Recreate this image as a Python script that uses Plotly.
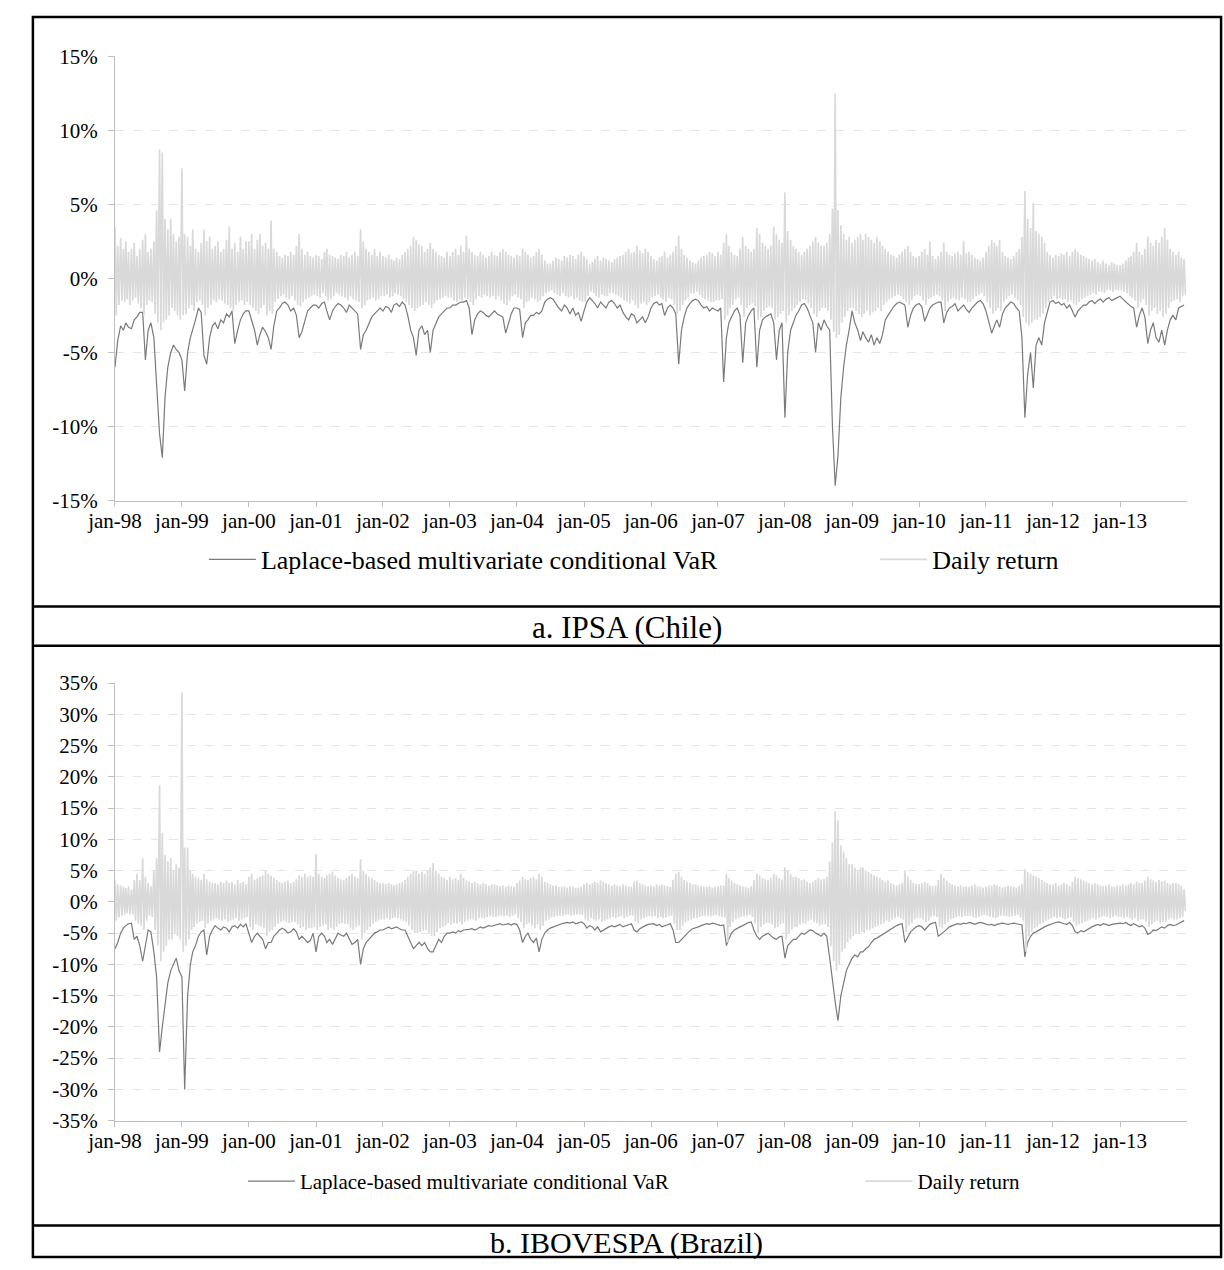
import plotly.graph_objects as go
from datetime import date

# ---------------- data (percent) ----------------
years = list(range(1998, 2014))
x_tick_labels = ["jan-%02d" % (y % 100) for y in years]
a_y_ticks = [15, 10, 5, 0, -5, -10, -15]
a_y_labels = ["15%", "10%", "5%", "0%", "-5%", "-10%", "-15%"]
b_y_ticks = [35, 30, 25, 20, 15, 10, 5, 0, -5, -10, -15, -20, -25, -30, -35]
b_y_labels = ["35%", "30%", "25%", "20%", "15%", "10%", "5%", "0%", "-5%",
              "-10%", "-15%", "-20%", "-25%", "-30%", "-35%"]

# IPSA: VaR, two readings per month (1st / 16th), 1998-2013
ipsa_var = [
    -6.0, -4.2, -3.2, -3.5, -3.0, -3.3, -3.4, -2.8, -2.6, -2.3, -2.3, -5.5, -3.5, -3.0, -4.0, -7.5, -10.5, -12.1, -8.0, -6.0, -5.0, -4.5, -4.8, -5.0,
    -5.5, -7.6, -5.0, -4.0, -3.5, -2.8, -2.0, -2.3, -5.2, -5.8, -4.0, -3.2, -3.0, -3.4, -2.8, -3.0, -2.4, -2.6, -2.2, -4.4, -3.5, -2.8, -2.4, -2.2,
    -2.2, -2.8, -3.5, -4.5, -3.8, -3.3, -3.6, -4.0, -4.8, -3.2, -2.2, -2.0, -1.7, -1.6, -1.8, -2.2, -2.0, -2.5, -4.0, -3.6, -2.8, -2.2, -2.0, -1.8,
    -1.8, -2.0, -1.7, -1.6, -2.2, -2.8, -2.2, -1.9, -1.7, -1.8, -2.0, -2.3, -1.8, -2.0, -2.2, -2.4, -4.8, -3.8, -3.5, -3.0, -2.6, -2.4, -2.2, -2.0,
    -2.2, -1.9, -2.0, -2.3, -1.8, -1.7, -1.9, -1.6, -1.8, -2.5, -3.5, -4.0, -5.2, -3.5, -3.2, -3.8, -3.5, -5.0, -3.5, -3.0, -2.6, -2.4, -2.2, -2.0,
    -2.0, -1.8, -1.8, -1.7, -1.6, -1.6, -1.5, -2.0, -3.8, -2.8, -2.4, -2.2, -2.3, -2.5, -2.6, -2.4, -2.2, -2.4, -2.5, -2.6, -3.7, -3.0, -2.4, -2.0,
    -2.0, -2.1, -4.0, -3.0, -2.8, -2.5, -2.5, -2.3, -2.4, -2.2, -1.6, -1.4, -1.3, -1.4, -1.7, -2.0, -2.2, -1.8, -2.0, -2.4, -2.0, -2.5, -2.3, -2.9,
    -2.2, -1.6, -1.3, -1.5, -1.7, -2.0, -1.6, -1.8, -2.0, -1.6, -1.5, -1.7, -2.0, -1.8, -2.3, -2.6, -2.8, -2.4, -2.5, -3.0, -2.8, -2.6, -3.0, -2.6,
    -2.0, -1.7, -1.6, -1.8, -1.7, -2.5, -2.0, -1.8, -2.0, -2.4, -5.8, -3.5, -2.6, -2.0, -1.7, -1.5, -1.4, -1.5, -1.8, -2.0, -1.9, -2.2, -2.0, -2.1,
    -2.2, -2.0, -7.0, -4.0, -3.0, -2.6, -2.2, -2.0, -2.5, -5.7, -3.0, -2.5, -2.2, -2.0, -6.0, -3.5, -2.8, -2.6, -2.5, -2.4, -3.0, -5.5, -3.5, -3.0,
    -9.4, -5.0, -3.5, -3.0, -2.5, -2.2, -1.8, -1.7, -2.0, -2.5, -3.0, -5.0, -3.0, -3.5, -2.8, -3.2, -3.5, -10.0, -14.0, -12.0, -8.0, -6.0, -4.5, -3.5,
    -2.2, -3.0, -3.5, -4.2, -3.6, -4.0, -4.3, -3.8, -4.5, -4.0, -4.4, -3.8, -2.8, -2.5, -2.2, -1.9, -1.7, -1.6, -1.7, -1.8, -3.3, -2.5, -2.0, -1.8,
    -1.7, -1.9, -2.9, -2.4, -2.0, -1.8, -1.7, -1.6, -1.6, -3.0, -2.3, -2.0, -1.9, -1.7, -2.2, -2.0, -1.8, -2.1, -2.3, -2.0, -1.8, -1.6, -1.5, -1.7,
    -2.2, -3.0, -3.7, -3.2, -2.8, -3.3, -2.4, -2.0, -1.8, -1.6, -1.7, -2.0, -2.2, -4.0, -9.4, -6.5, -5.0, -7.4, -4.5, -4.0, -4.5, -3.0, -2.3, -1.6,
    -1.5, -1.7, -1.6, -1.8, -1.7, -2.0, -1.8, -2.2, -2.6, -2.2, -2.0, -1.8, -1.8, -1.6, -1.5, -1.7, -1.5, -1.4, -1.6, -1.4, -1.3, -1.5, -1.4, -1.3,
    -1.2, -1.4, -1.6, -1.8, -1.9, -2.0, -3.3, -2.5, -2.0, -2.6, -4.4, -3.5, -3.0, -4.0, -4.3, -3.5, -4.5, -3.5, -2.8, -2.5, -2.8, -2.0, -1.9, -1.8,
]

# IPSA daily return: highest and lowest readings in each half month
ipsa_ret_hi = [
    3.5, 2.2, 2.7, 2.0, 2.5, 1.8, 2.0, 2.4, 1.5, 2.0, 2.6, 3.0, 1.8, 2.0, 2.5, 4.6, 8.7, 8.5, 4.0, 3.3, 4.0, 3.0, 2.5, 2.8,
    7.4, 3.0, 2.8, 2.2, 3.3, 2.0, 1.8, 2.4, 3.3, 2.5, 2.8, 2.0, 2.2, 2.5, 1.8, 2.0, 2.6, 3.5, 2.0, 2.4, 1.8, 2.8, 2.0, 2.5,
    2.5, 3.0, 2.0, 2.6, 3.0, 2.2, 2.4, 2.0, 3.9, 2.0, 1.8, 1.5, 1.4, 1.6, 1.5, 1.8, 1.6, 2.2, 3.0, 2.0, 1.6, 1.8, 1.5, 1.4,
    1.6, 1.5, 1.3, 1.8, 2.0, 1.6, 1.5, 1.4, 1.3, 1.6, 1.5, 1.8, 1.4, 1.6, 1.8, 1.5, 3.3, 2.5, 2.0, 1.8, 1.6, 2.0, 1.5, 1.8,
    1.5, 1.4, 1.6, 1.3, 1.2, 1.4, 1.3, 1.6, 1.8, 2.0, 2.2, 2.8, 2.6, 2.3, 2.2, 1.8, 2.0, 2.4, 2.0, 1.8, 1.6, 1.5, 1.4, 1.8,
    1.5, 1.8, 2.0, 1.6, 2.2, 1.8, 2.9, 2.0, 1.8, 1.6, 1.5, 1.8, 1.6, 1.4, 1.5, 1.8, 1.6, 1.5, 1.8, 2.0, 1.8, 1.6, 1.5, 1.4,
    1.6, 1.5, 2.0, 1.8, 1.6, 1.4, 1.5, 1.8, 2.0, 1.6, 1.2, 1.0, 1.0, 1.2, 1.4, 1.3, 1.2, 1.5, 1.4, 1.6, 1.5, 1.3, 1.6, 1.8,
    1.5, 1.3, 1.0, 1.1, 1.3, 1.5, 1.2, 1.4, 1.3, 1.2, 1.1, 1.3, 1.4, 1.5, 1.6, 1.8, 2.0, 1.7, 1.8, 2.2, 1.9, 1.7, 2.0, 1.8,
    1.5, 1.3, 1.2, 1.4, 1.5, 1.8, 1.4, 1.6, 1.8, 2.2, 2.9, 2.0, 1.6, 1.4, 1.2, 1.1, 1.0, 1.2, 1.4, 1.5, 1.6, 1.8, 1.7, 1.5,
    1.8, 1.6, 2.4, 3.0, 2.2, 1.8, 1.6, 1.5, 2.0, 2.8, 2.2, 2.0, 1.8, 2.0, 3.4, 3.0, 2.4, 2.2, 2.0, 2.2, 3.5, 3.0, 2.6, 2.4,
    5.8, 3.2, 2.6, 2.2, 2.0, 1.8, 1.6, 1.8, 2.0, 2.2, 2.5, 2.8, 2.4, 2.2, 2.2, 2.4, 3.0, 4.7, 12.5, 4.6, 3.6, 3.0, 2.6, 2.8,
    2.4, 2.6, 2.8, 3.0, 2.6, 3.0, 2.8, 2.6, 2.4, 2.8, 2.5, 2.2, 2.0, 1.8, 1.6, 1.5, 1.4, 1.6, 1.8, 2.0, 2.2, 1.8, 1.5, 1.4,
    1.5, 1.8, 2.0, 1.6, 2.5, 1.5, 1.3, 1.5, 1.8, 2.4, 1.8, 1.6, 1.5, 1.7, 1.8, 1.6, 2.5, 1.7, 1.8, 1.6, 1.4, 1.3, 1.2, 1.4,
    1.8, 2.2, 2.6, 2.4, 2.2, 2.6, 1.8, 1.5, 1.4, 1.3, 1.5, 1.8, 2.0, 2.8, 5.9, 4.0, 3.4, 5.1, 3.2, 3.0, 2.8, 2.4, 1.8, 1.6,
    1.4, 1.6, 1.5, 1.7, 1.6, 1.8, 1.5, 1.8, 2.0, 1.8, 1.6, 1.5, 1.4, 1.3, 1.2, 1.3, 1.1, 1.0, 1.2, 1.0, 0.9, 1.1, 1.0, 0.9,
    0.9, 1.0, 1.2, 1.4, 1.5, 1.8, 2.4, 1.8, 1.6, 2.0, 2.8, 2.4, 2.2, 2.6, 2.4, 2.8, 3.4, 2.6, 2.0, 1.8, 1.6, 1.8, 1.4, 1.3,
]
ipsa_ret_lo = [
    -2.5, -1.8, -1.5, -1.6, -1.4, -1.8, -1.5, -1.3, -1.7, -2.0, -2.5, -1.8, -1.5, -1.6, -2.4, -3.0, -3.5, -3.0, -2.8, -2.5, -2.0, -2.2, -2.5, -2.8,
    -2.5, -2.4, -2.0, -1.8, -2.2, -1.6, -1.5, -1.8, -2.5, -2.0, -1.8, -1.5, -1.6, -1.4, -1.5, -1.7, -1.8, -2.0, -2.2, -1.8, -1.6, -1.5, -1.8, -1.6,
    -1.8, -2.0, -2.2, -2.4, -2.0, -1.8, -2.5, -2.2, -2.4, -1.6, -1.4, -1.2, -1.1, -1.3, -1.4, -1.2, -1.5, -1.8, -1.9, -1.6, -1.4, -1.3, -1.2, -1.1,
    -1.2, -1.3, -1.0, -1.2, -1.5, -1.4, -1.2, -1.0, -1.1, -1.2, -1.3, -1.5, -1.2, -1.4, -1.5, -1.6, -2.0, -1.8, -1.5, -1.4, -1.3, -1.5, -1.4, -1.2,
    -1.2, -1.1, -1.3, -1.2, -1.0, -1.1, -1.2, -1.4, -1.6, -1.8, -2.0, -2.2, -2.0, -1.9, -1.8, -1.6, -1.8, -2.0, -1.7, -1.5, -1.4, -1.3, -1.2, -1.3,
    -1.3, -1.5, -1.6, -1.4, -1.5, -1.3, -1.4, -1.6, -1.8, -1.4, -1.2, -1.3, -1.1, -1.2, -1.3, -1.2, -1.4, -1.2, -1.5, -1.7, -1.8, -1.5, -1.2, -1.1,
    -1.3, -1.4, -2.0, -1.6, -1.5, -1.3, -1.4, -1.6, -1.5, -1.2, -1.0, -0.9, -0.8, -1.0, -1.1, -1.2, -1.0, -1.2, -1.3, -1.2, -1.4, -1.3, -1.5, -1.6,
    -1.6, -1.2, -0.9, -1.0, -1.2, -1.3, -1.1, -1.2, -1.2, -1.0, -1.0, -1.1, -1.2, -1.3, -1.5, -1.6, -1.7, -1.5, -1.8, -2.0, -1.7, -1.6, -1.8, -1.6,
    -1.3, -1.2, -1.1, -1.3, -1.4, -1.6, -1.3, -1.4, -1.8, -2.4, -2.2, -1.8, -1.5, -1.3, -1.0, -1.0, -0.9, -1.1, -1.3, -1.4, -1.5, -1.6, -1.6, -1.5,
    -1.5, -1.4, -2.8, -2.5, -2.0, -1.8, -1.4, -1.3, -1.8, -2.6, -2.0, -1.8, -1.7, -1.9, -2.8, -2.6, -2.2, -2.0, -1.9, -2.0, -2.8, -2.6, -2.4, -2.2,
    -3.0, -2.5, -2.2, -2.0, -1.8, -1.6, -1.4, -1.5, -1.7, -2.0, -2.4, -2.6, -2.2, -2.0, -2.0, -2.2, -2.8, -3.6, -4.0, -3.8, -3.0, -2.6, -2.2, -2.0,
    -2.0, -2.2, -2.4, -2.6, -2.4, -2.2, -2.5, -2.3, -2.2, -2.0, -2.2, -1.8, -1.6, -1.4, -1.3, -1.2, -1.1, -1.2, -1.4, -1.6, -1.8, -1.5, -1.2, -1.1,
    -1.2, -1.5, -1.8, -1.4, -1.3, -1.2, -1.1, -1.2, -1.5, -2.2, -1.6, -1.4, -1.3, -1.4, -1.5, -1.3, -1.4, -1.6, -1.6, -1.4, -1.2, -1.1, -1.0, -1.2,
    -1.6, -2.0, -2.4, -2.2, -2.0, -2.2, -1.6, -1.4, -1.2, -1.1, -1.3, -1.5, -1.8, -2.6, -3.0, -3.2, -3.0, -2.8, -2.8, -2.6, -2.4, -2.0, -1.6, -1.4,
    -1.2, -1.4, -1.3, -1.4, -1.4, -1.6, -1.5, -1.7, -1.8, -1.6, -1.4, -1.3, -1.2, -1.1, -1.0, -1.1, -0.9, -0.9, -1.0, -0.8, -0.8, -0.9, -0.8, -0.8,
    -0.8, -0.9, -1.0, -1.2, -1.3, -1.5, -2.0, -1.6, -1.4, -1.8, -2.5, -2.2, -2.0, -2.4, -2.2, -2.6, -2.4, -2.0, -1.6, -1.5, -1.4, -1.6, -1.2, -1.1,
]

# IBOVESPA: VaR, two readings per month
ibov_var = [
    -7.5, -6.5, -5.0, -4.2, -3.8, -3.5, -3.4, -6.0, -5.5, -7.0, -9.5, -7.0, -4.5, -4.8, -8.0, -12.0, -24.0, -20.0, -16.0, -13.0, -11.0, -10.0, -9.0, -11.0,
    -12.0, -30.0, -15.0, -10.0, -8.0, -7.0, -5.5, -4.8, -4.5, -8.5, -5.5, -4.5, -3.8, -4.2, -4.5, -4.0, -4.2, -4.8, -4.0, -3.8, -4.2, -3.6, -4.0, -3.5,
    -5.0, -6.5, -5.5, -5.0, -5.5, -6.0, -7.5, -6.5, -6.5, -5.5, -5.0, -4.5, -4.2, -4.5, -5.0, -4.8, -4.3, -4.8, -6.0, -5.5, -6.0, -6.5, -6.2, -5.0,
    -8.0, -5.5, -5.0, -5.5, -6.5, -6.0, -6.8, -6.0, -5.0, -5.3, -5.5, -5.0, -6.0, -6.8, -6.5, -6.0, -10.0, -7.5, -6.5, -6.0, -5.5, -5.0, -4.8, -4.5,
    -4.5, -4.2, -4.0, -4.3, -4.2, -4.0, -4.3, -4.5, -4.5, -5.5, -6.5, -7.5, -7.0, -6.5, -7.0, -6.5, -7.5, -8.0, -8.0, -7.0, -6.0, -6.5, -5.5, -5.0,
    -5.0, -4.8, -5.0, -4.6, -4.8, -4.5, -4.5, -4.4, -4.3, -4.5, -4.3, -4.0, -4.2, -4.0, -3.8, -3.9, -3.8, -3.6, -3.5, -3.7, -3.6, -3.5, -3.7, -3.5,
    -3.6, -4.5, -6.5, -5.5, -5.0, -6.0, -6.5, -5.8, -8.0, -6.0, -5.0, -4.5, -4.2, -4.0, -3.8, -3.6, -3.5, -3.4, -3.3, -3.4, -3.2, -3.5, -3.3, -3.2,
    -3.5, -4.2, -3.8, -4.0, -4.5, -4.0, -4.8, -4.5, -4.2, -4.0, -3.8, -4.0, -3.8, -3.6, -4.0, -3.8, -3.6, -3.5, -4.5, -4.8, -4.3, -4.0, -3.8, -3.6,
    -3.6, -3.5, -3.8, -3.6, -4.0, -3.8, -3.7, -3.5, -4.5, -6.5, -6.5, -6.0, -5.5, -5.0, -4.6, -4.3, -4.2, -4.0, -3.8, -3.6, -3.5, -3.6, -3.4, -3.5,
    -3.6, -3.8, -3.7, -7.0, -6.0, -5.0, -4.5, -4.2, -4.0, -3.8, -3.5, -3.3, -3.2, -4.5, -5.5, -6.0, -5.5, -5.2, -5.0, -5.4, -5.8, -6.0, -5.6, -5.5,
    -9.0, -7.0, -6.5, -6.0, -6.0, -5.5, -5.0, -5.2, -4.8, -4.5, -4.6, -5.0, -5.2, -5.5, -5.0, -5.5, -9.0, -13.0, -16.0, -19.0, -15.0, -13.0, -11.0, -10.0,
    -9.0, -8.5, -8.8, -8.0, -8.0, -7.5, -7.2, -6.5, -6.0, -5.8, -5.5, -5.2, -5.0, -4.6, -4.4, -4.0, -3.8, -3.6, -3.5, -6.5, -5.5, -4.8, -4.4, -4.0,
    -3.8, -4.0, -4.5, -4.0, -3.6, -3.4, -3.3, -5.5, -5.2, -4.8, -4.4, -4.0, -3.8, -3.6, -3.5, -3.6, -3.4, -3.5, -3.3, -3.4, -3.6, -3.4, -3.3, -3.4,
    -3.5, -3.7, -3.6, -3.8, -3.6, -3.5, -3.4, -3.5, -3.6, -3.5, -3.4, -3.5, -3.6, -3.7, -8.8, -6.5, -5.5, -5.0, -4.8, -4.5, -4.2, -4.0, -3.8, -3.6,
    -3.5, -3.3, -3.2, -3.4, -3.5, -3.6, -3.3, -3.8, -4.8, -5.0, -4.6, -4.8, -4.5, -4.2, -4.0, -3.8, -3.6, -3.8, -3.5, -3.6, -3.8, -3.6, -3.5, -3.4,
    -3.4, -3.5, -3.3, -3.6, -3.8, -3.5, -3.7, -4.0, -3.8, -4.2, -5.2, -5.0, -4.5, -4.6, -4.3, -4.0, -4.2, -3.8, -3.6, -3.8, -3.7, -3.5, -3.3, -3.0,
]

# IBOVESPA daily return: highest and lowest readings in each half month
ibov_ret_hi = [
    3.4, 2.8, 2.6, 2.4, 2.2, 2.5, 2.0, 3.5, 4.5, 3.5, 7.0, 4.0, 3.0, 2.5, 5.0, 7.0, 18.7, 11.0, 7.5, 6.5, 7.0, 5.0, 6.0, 5.5,
    33.5, 8.7, 8.7, 5.0, 4.5, 4.0, 3.8, 3.5, 4.5, 3.6, 3.2, 3.0, 3.0, 2.8, 3.2, 3.0, 3.4, 3.0, 3.2, 2.8, 3.5, 3.0, 3.2, 2.8,
    4.0, 4.5, 3.5, 3.8, 4.0, 4.2, 5.0, 4.5, 4.2, 3.8, 3.5, 3.2, 3.0, 3.2, 3.4, 3.0, 3.2, 3.6, 4.2, 4.0, 4.5, 4.0, 4.2, 4.0,
    7.6, 4.5, 4.0, 3.8, 4.2, 4.5, 4.8, 4.2, 3.8, 3.6, 3.5, 3.8, 4.2, 4.5, 4.0, 3.8, 6.8, 5.0, 4.5, 4.0, 3.8, 3.5, 3.2, 3.0,
    3.0, 2.8, 3.0, 2.8, 2.6, 2.8, 3.0, 3.2, 3.5, 4.0, 4.5, 5.0, 5.0, 4.5, 4.8, 4.5, 5.0, 5.5, 6.2, 5.0, 4.5, 4.0, 3.8, 3.5,
    4.0, 3.6, 3.8, 3.5, 4.5, 3.8, 3.4, 3.2, 3.0, 3.2, 3.0, 2.8, 3.0, 2.8, 2.6, 2.8, 2.8, 2.6, 2.5, 2.6, 2.4, 2.6, 2.5, 2.4,
    3.0, 3.4, 4.0, 3.6, 3.5, 3.8, 4.0, 3.6, 4.5, 4.0, 3.2, 3.0, 2.8, 2.6, 2.6, 2.4, 2.4, 2.5, 2.3, 2.5, 2.4, 2.2, 2.3, 2.4,
    2.8, 3.0, 2.8, 3.0, 3.2, 3.0, 3.4, 3.2, 3.0, 2.8, 2.6, 2.8, 2.6, 2.5, 2.8, 2.6, 2.5, 2.4, 3.2, 3.4, 3.0, 2.8, 2.6, 2.5,
    2.6, 2.5, 2.8, 2.6, 2.8, 2.6, 2.5, 2.4, 3.5, 4.5, 4.8, 4.0, 3.5, 3.2, 3.0, 2.8, 2.8, 2.6, 2.5, 2.4, 2.4, 2.5, 2.3, 2.4,
    2.5, 2.6, 2.6, 4.5, 3.8, 3.4, 3.0, 2.8, 2.6, 2.5, 2.4, 2.3, 2.5, 3.5, 4.5, 4.2, 3.8, 3.6, 3.5, 3.8, 4.5, 4.2, 3.8, 3.6,
    5.5, 5.0, 4.5, 4.0, 4.0, 3.8, 3.5, 3.6, 3.2, 3.0, 3.2, 3.5, 3.8, 3.6, 3.6, 4.0, 6.5, 9.5, 14.5, 13.0, 9.0, 8.0, 7.0, 6.0,
    6.0, 5.5, 5.0, 5.5, 5.5, 5.0, 4.8, 4.5, 4.2, 4.0, 3.8, 3.5, 3.2, 3.4, 3.0, 2.8, 2.6, 2.8, 3.0, 5.0, 4.0, 3.5, 3.0, 2.8,
    2.8, 3.0, 3.2, 3.0, 2.6, 2.5, 2.6, 3.5, 4.5, 3.8, 3.4, 3.0, 2.8, 2.6, 2.5, 2.6, 2.4, 2.5, 2.4, 2.6, 2.8, 2.5, 2.4, 2.3,
    2.4, 2.6, 2.6, 2.8, 2.6, 2.4, 2.3, 2.4, 2.6, 2.5, 2.4, 2.3, 2.6, 2.8, 5.2, 4.8, 4.5, 4.2, 4.0, 3.8, 3.5, 3.2, 3.0, 2.8,
    2.8, 3.0, 2.6, 2.8, 3.0, 2.8, 2.6, 3.2, 4.0, 3.8, 3.6, 3.4, 3.2, 3.0, 2.8, 3.0, 2.8, 2.6, 2.5, 2.6, 2.8, 2.5, 2.4, 2.6,
    2.6, 2.8, 2.6, 2.8, 3.0, 2.8, 3.2, 3.0, 3.0, 3.4, 4.0, 3.6, 3.4, 3.2, 3.5, 3.3, 3.4, 3.0, 2.8, 3.0, 3.0, 2.8, 2.6, 2.0,
]
ibov_ret_lo = [
    -3.0, -2.5, -2.2, -2.0, -1.8, -2.0, -2.0, -3.0, -3.5, -3.8, -4.5, -3.0, -2.2, -2.4, -4.5, -7.0, -9.5, -8.0, -7.0, -6.0, -6.0, -5.0, -5.5, -6.0,
    -8.0, -7.0, -6.0, -4.5, -4.0, -3.5, -3.2, -3.0, -4.2, -3.5, -3.0, -2.8, -2.6, -2.8, -3.0, -2.8, -3.2, -3.0, -2.8, -2.6, -3.0, -2.8, -2.6, -2.4,
    -4.0, -4.5, -3.6, -3.8, -4.0, -4.2, -5.5, -4.8, -4.5, -4.0, -3.5, -3.2, -3.0, -3.2, -3.4, -3.2, -3.2, -3.6, -4.2, -4.0, -4.5, -4.2, -4.2, -4.0,
    -4.5, -4.0, -3.8, -3.6, -4.5, -4.2, -4.5, -4.0, -3.5, -3.4, -3.5, -3.6, -4.2, -4.5, -4.0, -3.8, -6.0, -5.0, -4.5, -4.0, -3.5, -3.2, -3.0, -2.8,
    -2.8, -2.6, -2.8, -2.6, -2.5, -2.6, -2.8, -3.0, -3.2, -3.8, -4.5, -5.0, -5.0, -4.8, -4.6, -4.5, -5.0, -5.4, -5.5, -4.8, -4.2, -4.0, -3.8, -3.4,
    -3.6, -3.4, -3.5, -3.2, -3.6, -3.2, -3.0, -2.8, -2.8, -3.0, -2.6, -2.5, -2.6, -2.4, -2.3, -2.4, -2.4, -2.2, -2.2, -2.3, -2.2, -2.4, -2.2, -2.0,
    -2.6, -3.2, -4.2, -3.6, -3.4, -3.8, -4.2, -3.6, -4.5, -3.8, -3.0, -2.8, -2.5, -2.4, -2.3, -2.2, -2.2, -2.1, -2.0, -2.2, -2.1, -2.0, -2.0, -2.1,
    -2.8, -3.0, -2.6, -2.8, -3.0, -2.8, -3.2, -3.0, -2.8, -2.6, -2.4, -2.6, -2.4, -2.3, -2.6, -2.4, -2.2, -2.2, -3.2, -3.4, -2.8, -2.6, -2.4, -2.3,
    -2.4, -2.3, -2.6, -2.4, -2.6, -2.5, -2.3, -2.2, -3.5, -4.5, -4.5, -3.8, -3.3, -3.0, -2.8, -2.6, -2.6, -2.4, -2.3, -2.2, -2.2, -2.3, -2.2, -2.1,
    -2.3, -2.4, -2.5, -6.5, -4.0, -3.2, -2.8, -2.6, -2.4, -2.3, -2.2, -2.1, -2.4, -3.5, -5.0, -4.0, -3.6, -3.4, -3.4, -3.6, -4.2, -4.0, -3.6, -3.4,
    -6.0, -5.0, -4.4, -4.0, -4.0, -3.6, -3.4, -3.5, -3.0, -2.8, -3.2, -3.4, -3.8, -3.6, -3.6, -4.0, -7.0, -9.5, -11.0, -10.0, -8.0, -7.5, -6.5, -6.0,
    -5.5, -5.0, -5.0, -4.8, -5.0, -4.5, -4.5, -4.2, -4.0, -3.8, -3.6, -3.4, -3.0, -3.2, -2.8, -2.6, -2.4, -2.6, -2.8, -4.8, -3.8, -3.4, -2.8, -2.6,
    -2.6, -2.8, -3.2, -3.0, -2.4, -2.3, -2.4, -4.0, -4.2, -3.6, -3.2, -2.8, -2.6, -2.4, -2.3, -2.4, -2.2, -2.3, -2.2, -2.4, -2.6, -2.4, -2.2, -2.1,
    -2.2, -2.4, -2.5, -2.6, -2.4, -2.2, -2.2, -2.3, -2.4, -2.3, -2.2, -2.1, -2.5, -3.0, -8.0, -5.5, -4.8, -4.2, -4.0, -3.6, -3.4, -3.0, -2.8, -2.6,
    -2.4, -2.6, -2.4, -2.6, -2.8, -2.6, -2.5, -3.2, -3.8, -3.6, -3.4, -3.2, -3.0, -2.8, -2.6, -2.8, -2.6, -2.4, -2.3, -2.4, -2.6, -2.4, -2.2, -2.4,
    -2.4, -2.6, -2.4, -2.6, -2.8, -2.6, -3.0, -2.8, -2.8, -3.2, -4.0, -3.6, -3.2, -3.0, -3.4, -3.2, -3.2, -2.8, -2.6, -2.8, -2.8, -2.6, -2.4, -1.5,
]

legend_names = ["Laplace-based multivariate conditional VaR", "Daily return"]
captions = ["a. IPSA (Chile)", "b. IBOVESPA (Brazil)"]

# ---------------- dates ----------------
half_dates = [date(y, m, d) for y in years for m in range(1, 13) for d in (1, 16)]
ret_dates = []
for dd in half_dates:
    ret_dates.append(dd)
    ret_dates.append(date(dd.year, dd.month, dd.day + 7))


def zigzag(hi, lo):
    out = []
    for h, l in zip(hi, lo):
        out.extend([h, l])
    return out


tick_dates = [date(y, 1, 1) for y in years]

# ---------------- layout helpers (pixel geometry) ----------------
W, H = 1224, 1270
FONT = "Liberation Serif, Times New Roman, serif"
VAR_COLOR = "#7a7a7a"
RET_COLOR = "#d9d9d9"
AXIS_COLOR = "#bfbfbf"
GRID_COLOR = "#e6e6e6"


def fx(p):
    return p / W


def fy(p):
    return 1 - p / H


fig = go.Figure()

panels = [
    dict(var=ipsa_var, hi=ipsa_ret_hi, lo=ipsa_ret_lo, xa="x", ya="y", legs=("legend", "legend2")),
    dict(var=ibov_var, hi=ibov_ret_hi, lo=ibov_ret_lo, xa="x2", ya="y2", legs=("legend3", "legend4")),
]
for p in panels:
    fig.add_trace(go.Scatter(x=half_dates, y=p["var"], mode="lines", name=legend_names[0],
                             line=dict(color=VAR_COLOR, width=1.2), xaxis=p["xa"], yaxis=p["ya"],
                             legend=p["legs"][0], hoverinfo="skip"))
    fig.add_trace(go.Scatter(x=ret_dates, y=zigzag(p["hi"], p["lo"]), mode="lines", name=legend_names[1],
                             line=dict(color=RET_COLOR, width=1.7), xaxis=p["xa"], yaxis=p["ya"],
                             legend=p["legs"][1], hoverinfo="skip"))

x_common = dict(type="date", range=[date(1998, 1, 1), date(2013, 12, 31)],
                tickvals=tick_dates, ticktext=x_tick_labels, ticks="outside", ticklen=5,
                tickcolor=AXIS_COLOR, showline=True, linecolor=AXIS_COLOR, linewidth=1,
                showgrid=False, zeroline=False, ticklabelstandoff=-4,
                tickfont=dict(family=FONT, size=21, color="black"),
                domain=[fx(89), fx(1186)])
y_common = dict(ticks="outside", ticklen=6, tickcolor=AXIS_COLOR, showline=True,
                linecolor=AXIS_COLOR, linewidth=1, showgrid=True, gridcolor=GRID_COLOR,
                griddash="dash", gridwidth=1, zeroline=False, ticklabelstandoff=6,
                tickfont=dict(family=FONT, size=21, color="black"))


def legend_at(xpix, ypix, size):
    return dict(orientation="h", xanchor="left", yanchor="middle", x=fx(xpix), y=fy(ypix),
                bgcolor="rgba(0,0,0,0)", itemwidth=47, itemclick=False, itemdoubleclick=False,
                font=dict(family=FONT, size=size, color="black"))


fig.update_layout(
    width=W, height=H, margin=dict(l=0, r=0, t=0, b=0),
    paper_bgcolor="white", plot_bgcolor="white",
    font=dict(family=FONT, color="black"),
    xaxis=dict(x_common, anchor="y"),
    yaxis=dict(y_common, anchor="x", range=[-15, 15], tickvals=a_y_ticks, ticktext=a_y_labels,
               domain=[fy(498), fy(45)]),
    xaxis2=dict(x_common, anchor="y2"),
    yaxis2=dict(y_common, anchor="x2", range=[-35, 35], tickvals=b_y_ticks, ticktext=b_y_labels,
                domain=[fy(1130), fy(684)]),
    legend=legend_at(180, 558, 26),
    legend2=legend_at(867, 558, 26),
    legend3=legend_at(220, 1192, 21),
    legend4=legend_at(852, 1192, 21),
    showlegend=True,
)

# frame and separators
shapes = [
    dict(type="rect", xref="paper", yref="paper", x0=fx(5), x1=fx(1221), y0=fy(1269), y1=fy(5),
         line=dict(color="black", width=2.5)),
]
for yy in (606, 646, 1237):
    shapes.append(dict(type="line", xref="paper", yref="paper", x0=fx(5), x1=fx(1221),
                       y0=fy(yy), y1=fy(yy), line=dict(color="black", width=2.5)))
fig.update_layout(shapes=shapes)

fig.add_annotation(text=captions[0], xref="paper", yref="paper", x=fx(613), y=fy(627),
                   xanchor="center", yanchor="middle", showarrow=False,
                   font=dict(family=FONT, size=31, color="black"))
fig.add_annotation(text=captions[1], xref="paper", yref="paper", x=fx(613), y=fy(1255),
                   xanchor="center", yanchor="middle", showarrow=False,
                   font=dict(family=FONT, size=30, color="black"))

fig.write_html("out.html", config={"displayModeBar": False},
               post_script="document.body.style.margin='0';document.body.style.overflow='hidden';")
